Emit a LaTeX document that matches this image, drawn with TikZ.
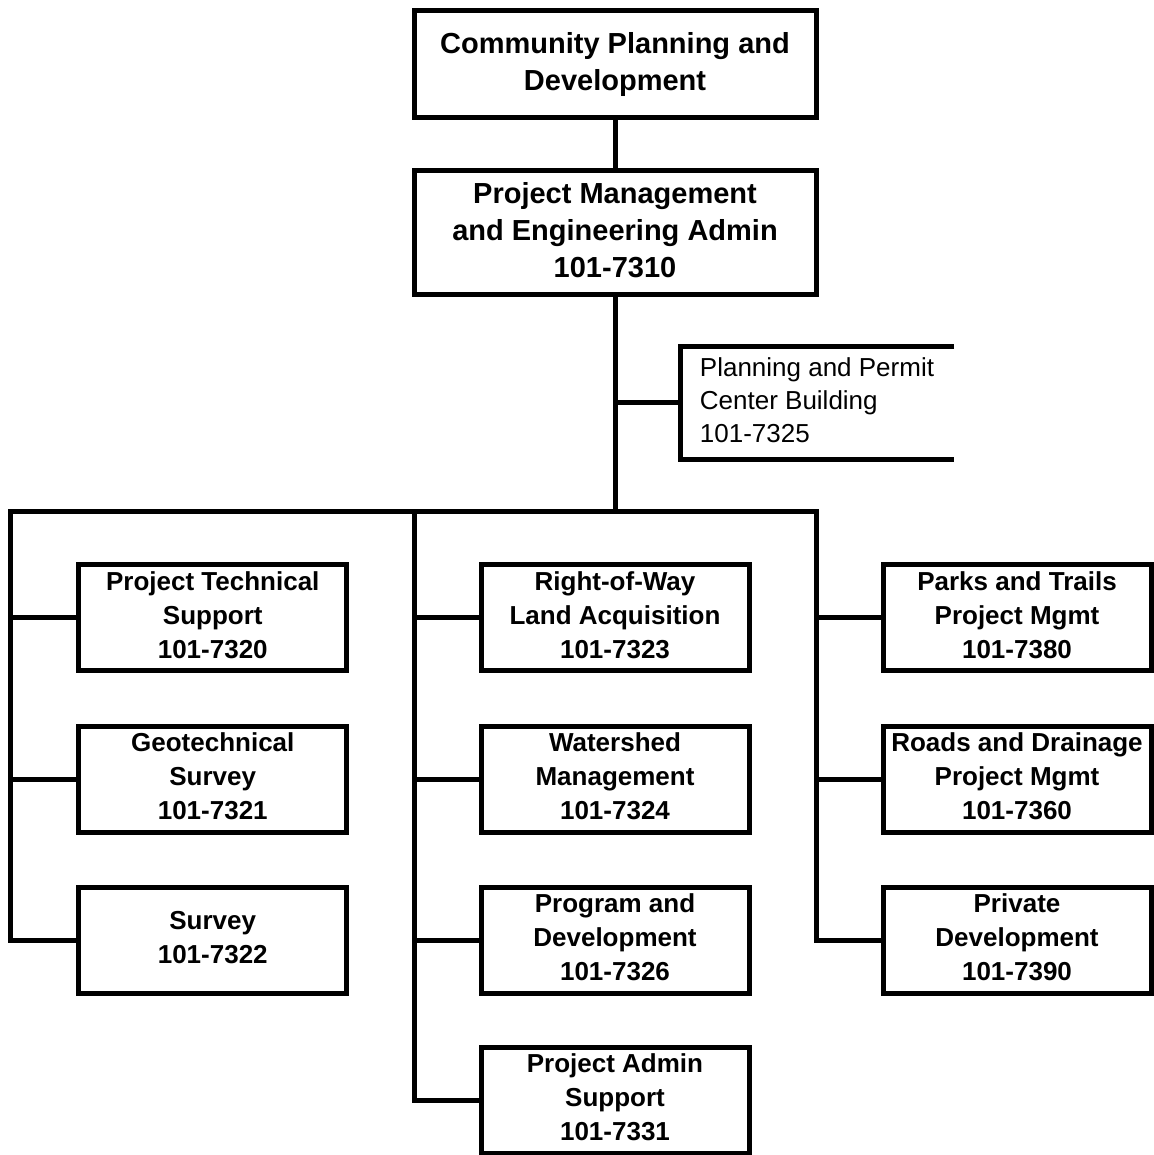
\documentclass[tikz,border=0pt]{standalone}
\usepackage{fontspec}
\setmainfont{Liberation Sans}
\usetikzlibrary{positioning,calc}

\begin{document}
\begin{tikzpicture}[x=1pt,y=-1pt,line width=5pt,line join=miter,
   head/.style={draw, minimum width=402pt, inner sep=1pt,
     font=\fontsize{29}{37}\selectfont\bfseries},
   unit/.style={draw, minimum width=268pt, minimum height=106pt, inner sep=1pt,
     font=\fontsize{26}{34}\selectfont\bfseries},
   permit/.style={minimum width=269pt, minimum height=108pt, inner sep=1pt,
     font=\fontsize{26}{33}\selectfont}]
   \useasboundingbox (0,0) rectangle (1153,1155);
   \node[head, minimum height=106.7pt] (cpd) at (615,64.2) {\begin{tabular}{c} Community Planning and \\ Development \end{tabular}};
   \node[head, minimum height=123.7pt] (pmea) at (615,232.7) {\begin{tabular}{c} Project Management \\ and Engineering Admin \\ 101-7310 \end{tabular}};
   \node[permit] (ppcb) at (817,402.5) {\begin{tabular}{l} Planning and Permit \\ Center Building \\ 101-7325 \end{tabular}};
   % left column
   \node[unit] (pts) at (212.75,617.5) {\begin{tabular}{c} Project Technical \\ Support \\ 101-7320 \end{tabular}};
   \node[unit] (gs) at (212.75,779) {\begin{tabular}{c} Geotechnical \\ Survey \\ 101-7321 \end{tabular}};
   \node[unit] (sv) at (212.75,940) {\begin{tabular}{c} Survey \\ 101-7322 \end{tabular}};
   % middle column
   \node[unit] (rwla) at (615,617.5) {\begin{tabular}{c} Right-of-Way \\ Land Acquisition \\ 101-7323 \end{tabular}};
   \node[unit] (wm) at (615,779) {\begin{tabular}{c} Watershed \\ Management \\ 101-7324 \end{tabular}};
   \node[unit] (pd) at (615,940) {\begin{tabular}{c} Program and \\ Development \\ 101-7326 \end{tabular}};
   \node[unit] (pas) at (615,1100) {\begin{tabular}{c} Project Admin \\ Support \\ 101-7331 \end{tabular}};
   % right column
   \node[unit] (ptpm) at (1017,617.5) {\begin{tabular}{c} Parks and Trails \\ Project Mgmt \\ 101-7380 \end{tabular}};
   \node[unit] (rdpm) at (1017,779) {\begin{tabular}{c} Roads and Drainage \\ Project Mgmt \\ 101-7360 \end{tabular}};
   \node[unit] (prd) at (1017,940) {\begin{tabular}{c} Private \\ Development \\ 101-7390 \end{tabular}};
   \coordinate (busl) at (10.5,511);
   \coordinate (busm) at (414,511);
   \coordinate (busr) at (816,511);
   \draw (ppcb.north east) -- (ppcb.north west) -- (ppcb.south west) -- (ppcb.south east);
   \draw (cpd) -- (pmea);
   \draw (pmea) -- (pmea |- busl);
   \draw (pmea |- ppcb) -- (ppcb);
   \draw (sv) -| (busl) -- (busr) |- (prd);
   \draw (busl |- pts) -- (pts);
   \draw (busl |- gs) -- (gs);
   \draw (busm) |- (pas);
   \draw (busm |- rwla) -- (rwla);
   \draw (busm |- wm) -- (wm);
   \draw (busm |- pd) -- (pd);
   \draw (busr |- ptpm) -- (ptpm);
   \draw (busr |- rdpm) -- (rdpm);
  \end{tikzpicture}
\end{document}
